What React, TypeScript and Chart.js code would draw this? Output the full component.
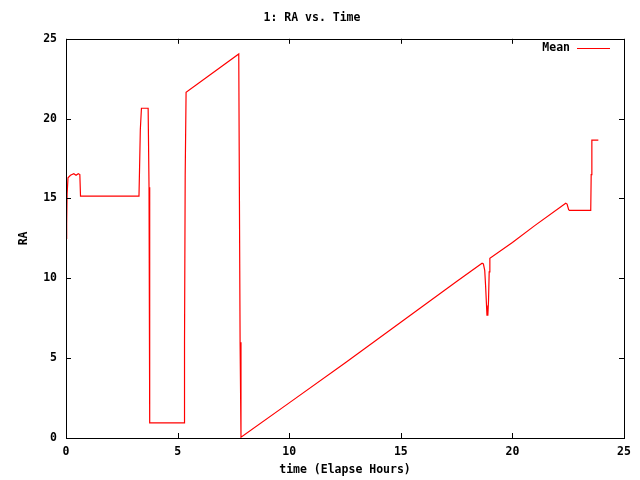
import React, { useEffect, useRef } from "react";
import { Chart, registerables } from "chart.js";

Chart.register(...registerables);

const TITLE = "1: RA vs. Time";
const X_LABEL = "time (Elapse Hours)";
const Y_LABEL = "RA";
const SERIES_NAME = "Mean";

// Elapsed hours and RA mean values
const hours = [
  0, 0.03, 0.05, 0.09, 0.2, 0.35, 0.45, 0.55, 0.62, 0.65,
  3.27, 3.29, 3.33, 3.38, 3.68, 3.72, 3.74, 3.76,
  5.29, 5.31, 5.34, 5.38, 7.74, 7.76, 7.8, 7.84,
  10, 12.5, 15, 17.5, 18.64, 18.7, 18.76, 18.8, 18.84, 18.86, 18.9, 18.93, 18.96, 18.99,
  20, 21, 22.39, 22.45, 22.52, 22.56, 23.51, 23.53, 23.56, 23.85,
];
const raMean = [
  12.5, 13.4, 15.3, 16.3, 16.45, 16.55, 16.45, 16.55, 16.5, 15.15,
  15.15, 16.5, 19.3, 20.65, 20.65, 15.7, 6.0, 0.95,
  0.95, 6.0, 16.4, 21.65, 24.05, 18.0, 6.0, 0.05,
  2.2, 4.7, 7.25, 9.8, 10.95, 10.9, 10.5, 9.5, 8.3, 7.7, 7.7, 8.6, 10.4, 11.25,
  12.25, 13.3, 14.7, 14.65, 14.3, 14.25, 14.25, 16.5, 18.65, 18.65,
];

const xTicks = [0, 5, 10, 15, 20, 25];
const yTicks = [0, 5, 10, 15, 20, 25];

const FONT = "'DejaVu Sans Mono', 'Liberation Mono', monospace";
const FONT_CSS = "bold 11.5px 'DejaVu Sans Mono', 'Liberation Mono', monospace";

const frameAndTicks = {
  id: "frameAndTicks",
  afterDatasetsDraw(chart: any) {
    const { ctx, chartArea, scales } = chart;
    const { left, right, top, bottom } = chartArea;
    const len = 5;
    ctx.save();
    ctx.strokeStyle = "#000";
    ctx.lineWidth = 1;
    ctx.beginPath();
    for (const t of xTicks) {
      const px = Math.round(scales.x.getPixelForValue(t)) + 0.5;
      ctx.moveTo(px, bottom);
      ctx.lineTo(px, bottom - len);
      ctx.moveTo(px, top);
      ctx.lineTo(px, top + len);
    }
    for (const t of yTicks) {
      const py = Math.round(scales.y.getPixelForValue(t)) + 0.5;
      ctx.moveTo(left, py);
      ctx.lineTo(left + len, py);
      ctx.moveTo(right, py);
      ctx.lineTo(right - len, py);
    }
    ctx.stroke();
    ctx.strokeRect(Math.round(left) + 0.5, Math.round(top) + 0.5, Math.round(right - left), Math.round(bottom - top));

    // gnuplot-style key: text then line sample, inside top-right
    chart.data.datasets.forEach((ds: any, i: number) => {
      const y = Math.round(top + 9 + i * 14) + 0.5;
      const lineRight = right - 14;
      const lineLeft = lineRight - 33;
      ctx.strokeStyle = ds.borderColor;
      ctx.lineWidth = 1;
      ctx.beginPath();
      ctx.moveTo(lineLeft, y);
      ctx.lineTo(lineRight, y);
      ctx.stroke();
      ctx.fillStyle = "#000";
      ctx.font = FONT_CSS;
      ctx.textAlign = "right";
      ctx.textBaseline = "middle";
      ctx.fillText(ds.label, lineLeft - 7, y);
    });
    ctx.restore();
  },
};

export default function App() {
  const ref = useRef<HTMLCanvasElement>(null);
  useEffect(() => {
    if (!ref.current) return;
    const points = hours.map((h, i) => ({ x: h, y: raMean[i] }));
    const chart = new Chart(ref.current, {
      type: "line",
      data: {
        datasets: [
          {
            label: SERIES_NAME,
            data: points,
            borderColor: "#ff0000",
            backgroundColor: "#ff0000",
            borderWidth: 1.2,
            pointRadius: 0,
            tension: 0,
            fill: false,
          },
        ],
      },
      options: {
        animation: false,
        responsive: false,
        layout: { padding: { top: 0, right: 16, bottom: 0, left: 0 } },
        plugins: {
          title: {
            display: true,
            text: TITLE,
            color: "#000",
            font: { family: FONT, size: 11.5, weight: "bold" },
            padding: { top: 11, bottom: 14 },
          },
          legend: { display: false },
          tooltip: { enabled: false },
        },
        scales: {
          x: {
            type: "linear",
            min: 0,
            max: 25,
            grid: { display: false, drawTicks: false },
            border: { display: false },
            afterFit: (s: any) => { s.height = 42; },
            afterBuildTicks: (s: any) => { s.ticks = xTicks.map((v) => ({ value: v })); },
            ticks: {
              color: "#000",
              padding: 7,
              font: { family: FONT, size: 11.5, weight: "bold" },
            },
            title: {
              display: true,
              text: X_LABEL,
              color: "#000",
              font: { family: FONT, size: 11.5, weight: "bold" },
              padding: { top: 0, bottom: 3 },
            },
          },
          y: {
            type: "linear",
            min: 0,
            max: 25,
            grid: { display: false, drawTicks: false },
            border: { display: false },
            afterFit: (s: any) => { s.width = 66; },
            afterBuildTicks: (s: any) => { s.ticks = yTicks.map((v) => ({ value: v })); },
            ticks: {
              color: "#000",
              padding: 9,
              font: { family: FONT, size: 11.5, weight: "bold" },
            },
            title: {
              display: true,
              text: Y_LABEL,
              color: "#000",
              font: { family: FONT, size: 11.5, weight: "bold" },
              padding: { top: 17, bottom: 0 },
            },
          },
        },
      },
      plugins: [frameAndTicks],
    });
    return () => chart.destroy();
  }, []);
  return (
    <div style={{ position: "fixed", left: 0, top: 0, width: 640, height: 480, background: "#fff" }}>
      <canvas ref={ref} width={640} height={480} />
    </div>
  );
}
